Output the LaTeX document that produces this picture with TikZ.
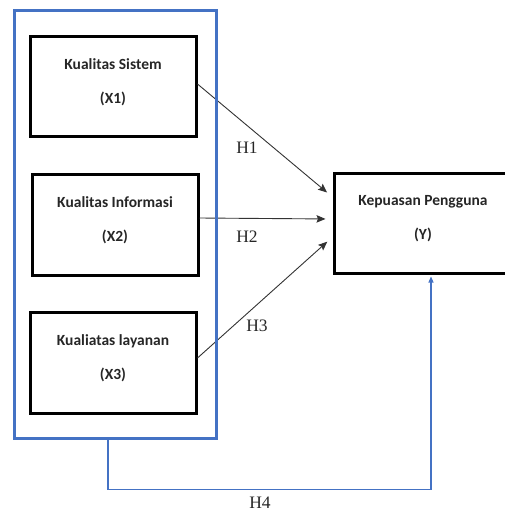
\documentclass[tikz,border=0pt]{standalone}
\usepackage{fontspec}
\setmainfont{Liberation Serif}
\newfontfamily\boxfont{Carlito}
\usetikzlibrary{arrows.meta}
\definecolor{frameblue}{RGB}{68,114,196}
\begin{document}
\begin{tikzpicture}[x=1pt,y=-1pt,
    varbox/.style={draw,line width=3pt,minimum width=166pt,minimum height=101pt,inner sep=0pt},
    vartext/.style={align=center,font=\boxfont\bfseries\fontsize{15.5}{34}\selectfont,text=black!85},
    hlabel/.style={font=\fontsize{17.5}{20}\selectfont,text=black!85},
    hyp/.style={draw=black!80,line width=0.9pt,-{Stealth[length=9pt,width=7.5pt,inset=1.5pt]},shorten >=7pt}]
    \useasboundingbox (0,0) rectangle (505,512);
    \clip (0,0) rectangle (505,512);
    \node [varbox,minimum height=100pt] (x1) at (113,86) {};
    \node [vartext] (x1txt) at ([yshift=4pt]x1.center) {Kualitas Sistem\\(X1)};
    \node [varbox] (x2) at (115,224.5) {};
    \node [vartext] (x2txt) at ([yshift=4pt]x2.center) {Kualitas Informasi\\(X2)};
    \node [varbox] (x3) at (113,362.5) {};
    \node [vartext] (x3txt) at ([yshift=4pt]x3.center) {Kualiatas layanan\\(X3)};
    \node [varbox,minimum width=190pt,minimum height=100pt] (y) at (429,223) {};
    \node [vartext] (ytxt) at ([xshift=-6pt,yshift=4pt]y.center) {Kepuasan Pengguna\\(Y)};
    \draw [hyp] ([yshift=2pt]x1.east) -- ([yshift=26pt]y.west);
    \draw [hyp] ([yshift=6.5pt]x2.east) -- ([yshift=4pt]y.west);
    \draw [hyp] ([yshift=4.5pt]x3.east) -- ([yshift=-14pt]y.west);
    \node [draw=frameblue,line width=3pt,minimum width=202pt,minimum height=428pt,inner sep=0pt] (frame) at (115,224) {};
    \draw [frameblue,line width=1.1pt,-{Triangle[length=6pt,width=5pt]}] ([xshift=-7pt]frame.south) -- ++(0,50) -| ([xshift=2pt,yshift=-2pt]y.south);
    \node [hlabel] (h1) at (247,148) {H1};
    \node [hlabel] (h2) at (247,237) {H2};
    \node [hlabel] (h3) at (257,326) {H3};
    \node [hlabel] (h4) at (260,503) {H4};
\end{tikzpicture}
\end{document}
